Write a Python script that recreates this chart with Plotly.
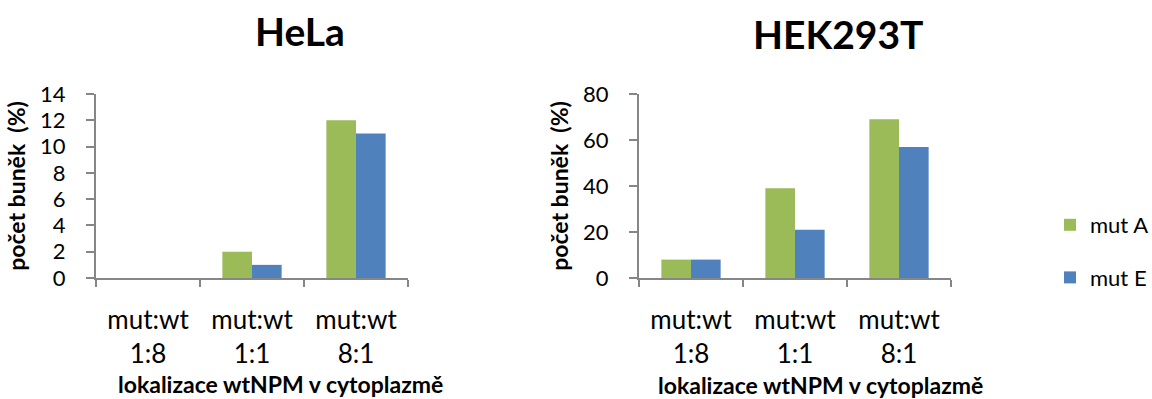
import plotly.graph_objects as go

# Data
categories = ["mut:wt<br>1:8", "mut:wt<br>1:1", "mut:wt<br>8:1"]
series_names = ["mut A", "mut E"]
hela_mut_a = [0, 2, 12]
hela_mut_e = [0, 1, 11]
hek_mut_a = [8, 39, 69]
hek_mut_e = [8, 21, 57]
panel_titles = ["HeLa", "HEK293T"]
x_title = "lokalizace wtNPM v cytoplazmě"
y_title = "počet buněk  (%)"

GREEN = "#9BBB59"
BLUE = "#4F81BD"
AXIS = "#868686"
FONT = "Lato"

W, H = 1152, 399

fig = go.Figure()

def add_panel(a_vals, e_vals, xa, ya, legend):
    fig.add_trace(go.Bar(x=categories, y=a_vals, name=series_names[0],
                         marker=dict(color=GREEN, line=dict(width=0)),
                         xaxis=xa, yaxis=ya, showlegend=legend, legendgroup="a"))
    fig.add_trace(go.Bar(x=categories, y=e_vals, name=series_names[1],
                         marker=dict(color=BLUE, line=dict(width=0)),
                         xaxis=xa, yaxis=ya, showlegend=legend, legendgroup="e"))

add_panel(hela_mut_a, hela_mut_e, "x", "y", True)
add_panel(hek_mut_a, hek_mut_e, "x2", "y2", False)

def px_x(p):
    return p / W

def px_y(p):
    return 1 - p / H

y_dom = [px_y(278), px_y(94)]

xaxis_common = dict(
    type="category", range=[-0.5, 2.5], showline=True, linecolor=AXIS, linewidth=2,
    ticks="outside", tickson="boundaries", ticklen=7, tickcolor=AXIS, tickwidth=2,
    tickfont=dict(family=FONT, size=26, color="#000"), showgrid=False, zeroline=False,
    ticklabelstandoff=18, fixedrange=True, automargin=False,
)
yaxis_common = dict(
    showline=True, linecolor=AXIS, linewidth=2, ticks="outside", ticklen=8,
    tickcolor=AXIS, tickwidth=2, tickfont=dict(family=FONT, size=22, color="#000"),
    showgrid=False, zeroline=False, ticklabelstandoff=16, fixedrange=True,
    automargin=False,
    title=dict(text=y_title, font=dict(family=FONT, size=23, color="#000", weight="bold"),
               standoff=8),
)

fig.update_layout(
    template="none",
    width=W, height=H, margin=dict(l=0, r=0, t=0, b=0, autoexpand=False),
    paper_bgcolor="white", plot_bgcolor="white",
    barmode="group", bargap=0.43, bargroupgap=0,
    font=dict(family=FONT, color="#000"),
    xaxis=dict(domain=[px_x(96), px_x(408)], anchor="y", **xaxis_common),
    xaxis2=dict(domain=[px_x(639), px_x(951)], anchor="y2", **xaxis_common),
    yaxis=dict(domain=y_dom, anchor="x", range=[0, 14], dtick=2, **yaxis_common),
    yaxis2=dict(domain=y_dom, anchor="x2", range=[0, 80], dtick=20, **yaxis_common),
    legend=dict(x=px_x(1050), y=px_y(204), xanchor="left", yanchor="top",
                font=dict(family=FONT, size=22, color="#000"),
                tracegroupgap=21, itemwidth=30, bgcolor="rgba(0,0,0,0)"),
)

title_font = dict(family=FONT, size=39, weight="bold", color="#000")
xt_font = dict(family=FONT, size=23, weight="bold", color="#000")
annotations = [
    dict(text=panel_titles[0], x=px_x(300), y=px_y(31), font=title_font),
    dict(text=panel_titles[1], x=px_x(838), y=px_y(34), font=title_font),
    dict(text=x_title, x=px_x(280), y=px_y(384), font=xt_font),
    dict(text=x_title, x=px_x(820), y=px_y(385), font=xt_font),
]
for a in annotations:
    a.update(xref="paper", yref="paper", xanchor="center", yanchor="middle", showarrow=False)
fig.update_layout(annotations=annotations)

fig.write_html("out.html")
